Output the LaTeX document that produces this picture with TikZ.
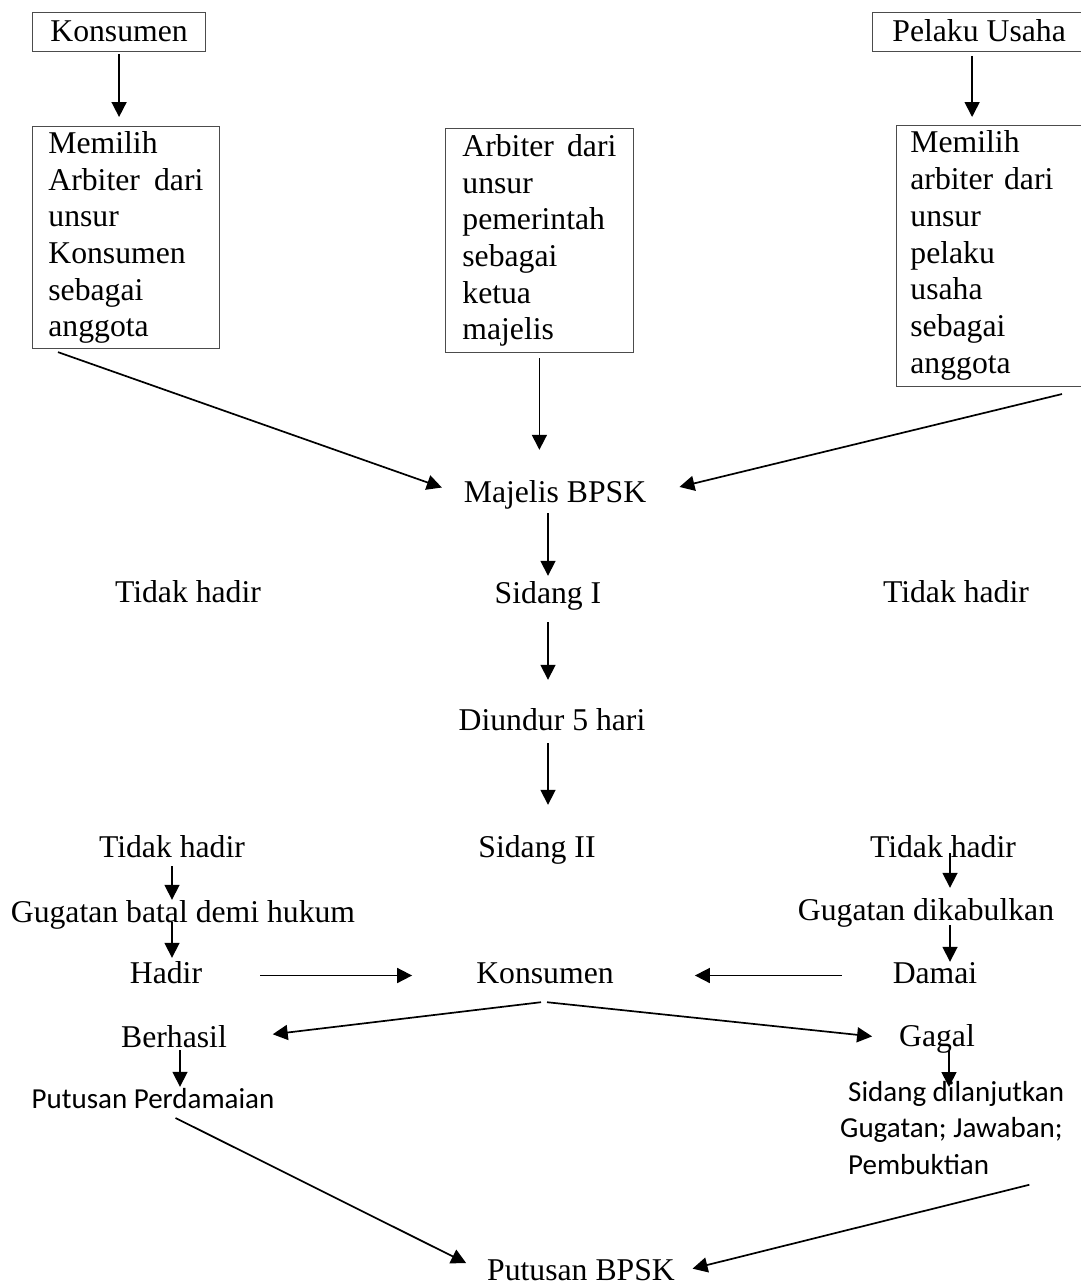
\documentclass[tikz,border=0pt]{standalone}
\usepackage{fontspec}
\setmainfont{Liberation Serif}
\newfontfamily\calibri{Carlito}
\usetikzlibrary{arrows.meta}

\tikzset{
  teks/.style={inner sep=2pt, text height=22pt, text depth=7pt},
  teksc/.style={font=\calibri\fontsize{29pt}{36.5pt}\selectfont, inner sep=2pt},
  kotak/.style={draw=black!70, line width=0.8pt, anchor=north west, align=left},
  garis/.style={draw=black!70, line width=0.8pt},
  panah/.style={-{Triangle[length=15pt,width=15pt]}, line width=1.7pt}
}

\begin{document}
\begin{tikzpicture}[x=1pt, y=-1pt,
  every node/.style={font=\fontsize{31.7pt}{36.7pt}\selectfont}]
  \useasboundingbox (0,0) rectangle (1081,1288);

  % Pihak
  \node[kotak, inner xsep=18pt, inner ysep=5pt, text height=24pt, text depth=5pt] (kons1) at (32,12) {Konsumen};
  \node[kotak, draw=none, inner xsep=20pt, inner ysep=5pt, text height=24pt, text depth=5pt] (pelaku) at (872,12) {Pelaku Usaha};
  \draw[garis] (pelaku.north west) rectangle ([shift={(40,0)}]pelaku.south east);

  % Pilihan arbiter
  \node[kotak, text width=155pt, inner xsep=16pt, inner ysep=5pt] (pilih1) at (32,126)
    {Memilih\\ Arbiter\hfill dari\\ unsur\\ Konsumen\\ sebagai\\ anggota};
  \node[kotak, text width=154pt, inner xsep=17pt, inner ysep=6pt] (arb) at (445,128)
    {Arbiter\hfill dari\\ unsur\\ pemerintah\\ sebagai\\ ketua\\ majelis};
  \node[kotak, draw=none, text width=143pt, inner xsep=14pt, inner ysep=5.6pt] (pilih3) at (896,125)
    {Memilih\\ arbiter\hfill dari\\ unsur\\ pelaku\\ usaha\\ sebagai\\ anggota};
  \draw[garis] (pilih3.north west) rectangle ([shift={(40,0)}]pilih3.south east);

  % Sidang
  \node[teks] (majelis) at (555,494.5) {Majelis BPSK};
  \node[teks] (tidak1) at (188,594.5) {Tidak hadir};
  \node[teks] (sidang1) at (548,595.5) {Sidang I};
  \node[teks] (tidak2) at (956,594.5) {Tidak hadir};
  \node[teks] (diundur) at (552,722.5) {Diundur 5 hari};
  \node[teks] (tidak3) at (172,849.5) {Tidak hadir};
  \node[teks] (sidang2) at (537,849.5) {Sidang II};
  \node[teks] (tidak4) at (943,849.5) {Tidak hadir};
  \node[teks] (batal) at (183,914.5) {Gugatan batal demi hukum};
  \node[teks] (kabul) at (926,912.5) {Gugatan dikabulkan};
  \node[teks] (hadir) at (166,975.5) {Hadir};
  \node[teks] (kons2) at (545,975.5) {Konsumen};
  \node[teks] (damai) at (935,975.5) {Damai};
  \node[teks] (berhasil) at (174,1039.5) {Berhasil};
  \node[teks] (gagal) at (937,1039) {Gagal};
  \node[teksc, text height=21pt, text depth=6pt] (ppd) at (153,1100.5) {Putusan Perdamaian};
  \node[teksc, anchor=north west, align=left] (lanjut) at (838,1079)
    {\hspace*{8pt}Sidang dilanjutkan\\ Gugatan; Jawaban;\\ \hspace*{8pt}Pembuktian};
  \node[teks] (bpsk) at (581,1272.5) {Putusan BPSK};

  % Panah
  \draw[panah, shorten <=2pt, shorten >=9pt] (kons1.south) -- (kons1.south |- pilih1.north);
  \draw[panah, shorten <=4pt, shorten >=8pt] ([shift={(-7,0)}]pelaku.south) -- ([shift={(-7,0)}]pelaku.south |- pilih3.north);
  \draw[panah, shorten <=5pt, shorten >=28pt] (arb.south) -- (arb.south |- majelis.north);
  \draw[panah, shorten >=21pt] ([shift={(26,3)}]pilih1.south west) -- (majelis.west);
  \draw[panah, shorten >=32pt] ([shift={(166,8)}]pilih3.south west) -- (majelis.east);
  \draw[panah, shorten <=2pt, shorten >=3pt] (sidang1.north |- majelis.south) -- (sidang1.north);
  \draw[panah, shorten <=10pt, shorten >=26pt] (sidang1.south) -- (sidang1.south |- diundur.north);
  \draw[panah, shorten <=4pt, shorten >=28pt] ([shift={(-4,0)}]diundur.south) -- ([shift={(-4,0)}]diundur.south |- sidang2.north);
  \draw[panah, shorten >=-2pt] (tidak3.south) -- (tidak3.south |- batal.north);
  \draw[panah, shorten <=-9pt, shorten >=1pt] ([shift={(-11,0)}]batal.south) -- ([shift={(-11,0)}]batal.south |- hadir.north);
  \draw[panah, shorten <=56pt, shorten >=62pt] (hadir.east) -- (kons2.west);
  \draw[panah, shorten <=49pt, shorten >=79pt] (damai.west) -- (kons2.east);
  \draw[panah, shorten <=-13pt, shorten >=8pt] ([shift={(7,0)}]tidak4.south) -- ([shift={(7,0)}]tidak4.south |- kabul.north);
  \draw[panah, shorten <=-4pt, shorten >=-3pt] ([shift={(24,0)}]kabul.south) -- ([shift={(24,0)}]kabul.south |- damai.north);
  \draw[panah, shorten >=44pt] ([shift={(-4,10)}]kons2.south) -- (berhasil.east);
  \draw[panah, shorten >=25pt] ([shift={(2,10)}]kons2.south) -- (gagal.west);
  \draw[panah, shorten <=-6pt, shorten >=-2pt] ([shift={(6,0)}]berhasil.south) -- ([shift={(6,0)}]berhasil.south |- ppd.north);
  \draw[panah, shorten <=-5.5pt, shorten >=-8pt] ([shift={(12,0)}]gagal.south) -- ([shift={(12,0)}]gagal.south |- lanjut.north);
  \draw[panah, shorten <=4pt, shorten >=21pt] ([shift={(19,0)}]ppd.south) -- (bpsk.west);
  \draw[panah, shorten >=16pt] ([shift={(-37,8)}]lanjut.south east) -- (bpsk.east);
\end{tikzpicture}
\end{document}
